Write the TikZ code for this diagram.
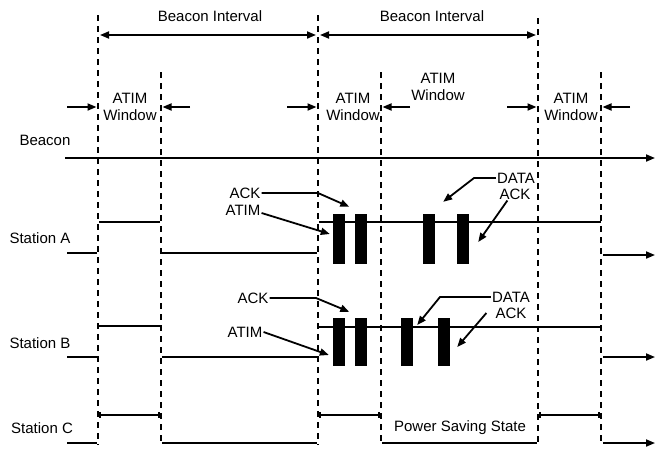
\documentclass[tikz,border=0pt]{standalone}
\usepackage{fontspec}
\setmainfont{Liberation Sans}
\usetikzlibrary{arrows.meta,positioning,calc}
\tikzset{
  dashline/.style={dash pattern=on 6pt off 5pt, line width=1.5pt},
  sigline/.style={line width=1.8pt},
  arr/.style={-{Triangle[length=9pt,width=7pt]}, line width=1.8pt},
  dblarr/.style={{Triangle[length=9pt,width=7pt]}-{Triangle[length=9pt,width=7pt]}, line width=1.8pt},
  barline/.style={{Bar[width=6pt]}-{Bar[width=6pt]}, line width=1.8pt},
  pkt/.style={fill=black, minimum width=12pt, minimum height=50pt, inner sep=0pt},
  lbl/.style={font=\fontsize{15}{17}\selectfont, inner sep=1pt, align=center}}
\begin{document}
\begin{tikzpicture}[x=1pt,y=-1pt]
\useasboundingbox (0,0) rectangle (655,451);
% time marks
\foreach \x/\t [count=\i] in {98/15,161/72,318/15,381/72,538/18,601/72}{
  \coordinate (top\i) at (\x,\t);
  \coordinate (bot\i) at (\x,445);
  \coordinate (m\i) at (\x,35);
  \coordinate (w\i) at (\x,107);
  \draw[dashline] (top\i) -- (bot\i);}

% beacon intervals
\node[lbl] (bi1) at (210,16) {Beacon Interval};
\node[lbl] (bi2) at (432,16) {Beacon Interval};
\draw[dblarr] ([xshift=2pt]m1) -- ([xshift=-2pt]m3);
\draw[dblarr] ([xshift=2pt]m3) -- ([xshift=-2pt]m5);

% atim windows
\node[lbl] (aw1) at (130,107) {ATIM\\Window};
\node[lbl] (aw2) at (353,107) {ATIM\\Window};
\node[lbl] (aw3) at (438,87) {ATIM\\Window};
\node[lbl] (aw4) at (571,107) {ATIM\\Window};
\foreach \a/\b in {1/2,3/4,5/6}{
  \draw[arr] ([xshift=-31pt]w\a) -- ([xshift=-1.5pt]w\a);
  \draw[arr] ([xshift=29pt]w\b) -- ([xshift=1.5pt]w\b);}

% rows
\node[lbl] (beacon) at (45,140) {Beacon};
\node[lbl] (staA) at (40,238) {Station A};
\node[lbl] (staB) at (40,343) {Station B};
\node[lbl] (staC) at (42,428) {Station C};

\coordinate (bcS) at (65,158);
\coordinate (bcE) at (655,158);
\draw[arr] (bcS) -- (bcE);

% station A
\draw[sigline] (67,253) -- (97,253) (99,222) -- (160,222)
  (162,253) -- (317,253) (319,222) -- (601,222);
\draw[arr] (603,255) -- (655,255);
\foreach \x [count=\i] in {339,360.5,428.5,463}
  \node[pkt] (pA\i) at (\x,239) {};

% station B
\draw[sigline] (67,357) -- (97,357) (99,326) -- (160,326)
  (162,357) -- (317,357) (319,327) -- (601,327);
\draw[arr] (603,357) -- (655,357);
\foreach \x [count=\i] in {339,360.5,407,444}
  \node[pkt, minimum height=48pt] (pB\i) at (\x,342) {};

% station C
\draw[barline] (99,415) -- (160,415);
\draw[barline] (319,415) -- (380,415);
\draw[barline] (539,415) -- (600,415);
\draw[sigline] (67,443) -- (97,443) (162,443) -- (317,443) (382,443) -- (537,443);
\draw[arr] (603,443) -- (655,443);
\node[lbl] (pss) at (460,428) {Power Saving State};

% frame labels, station A
\node[lbl] (ackA) at (245,193) {ACK};
\node[lbl] (atimA) at (243,210) {ATIM};
\node[lbl] (dataA) at (516,178) {DATA};
\node[lbl] (ackA2) at (515,194) {ACK};
\draw[arr] (ackA.east) -- (318,193) -- ([shift={(-5,-7)}]pA2.north west);
\draw[arr] ([yshift=-3pt]atimA.east) -- ([shift={(-3,-5)}]pA1.west);
\draw[arr] (dataA.west) -- (474,178) -- ([shift={(8.5,-12)}]pA3.north east);
\draw[arr] ([xshift=9pt]ackA2.south west) -- ([shift={(9,3)}]pA4.east);

% frame labels, station B
\node[lbl] (ackB) at (253,298) {ACK};
\node[lbl] (atimB) at (245,332) {ATIM};
\node[lbl] (dataB) at (511,297) {DATA};
\node[lbl] (ackB2) at (511,313) {ACK};
\draw[arr] (ackB.east) -- (316,298) -- ([shift={(-5,-6)}]pB2.north west);
\draw[arr] (atimB.east) -- ([shift={(-4,13)}]pB1.west);
\draw[arr] (dataB.west) -- (440,297) -- ([shift={(4,-17)}]pB3.east);
\draw[arr] ([xshift=-8pt]ackB2.west) -- ([shift={(7,5)}]pB4.east);
\end{tikzpicture}
\end{document}
